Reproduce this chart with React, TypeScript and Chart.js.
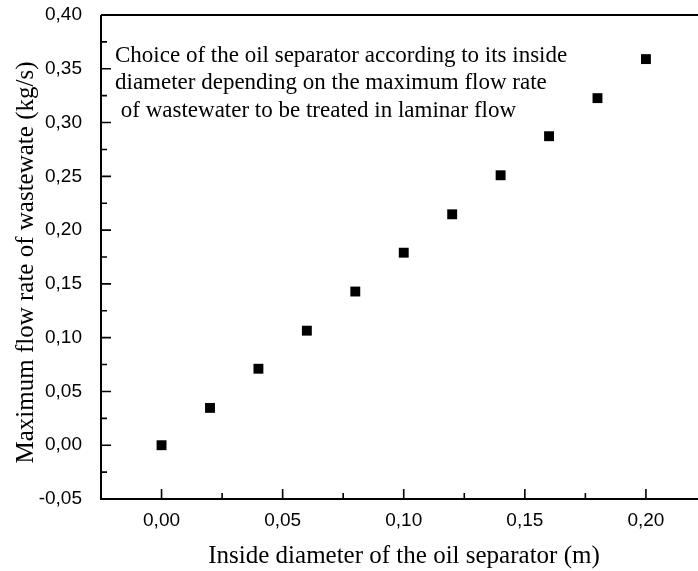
import React, { useEffect, useRef } from 'react';
import { Chart, registerables } from 'chart.js';

Chart.register(...registerables);

const diameters = [0, 0.02, 0.04, 0.06, 0.08, 0.1, 0.12, 0.14, 0.16, 0.18, 0.2];
const flowRates = [0, 0.0347, 0.0711, 0.1065, 0.1429, 0.179, 0.2147, 0.251, 0.2873, 0.3227, 0.359];

const xTicks = [0, 0.05, 0.1, 0.15, 0.2];
const yTicks = [-0.05, 0, 0.05, 0.1, 0.15, 0.2, 0.25, 0.3, 0.35, 0.4];
const xMinorTicks = [0.025, 0.075, 0.125, 0.175];
const yMinorTicks = [-0.025, 0.025, 0.075, 0.125, 0.175, 0.225, 0.275, 0.325, 0.375];

const annotationLines = [
  'Choice of the oil separator according to its inside',
  'diameter depending on the maximum flow rate',
  ' of wastewater to be treated in laminar flow',
];
const xTitle = 'Inside diameter of the oil separator (m)';
const yTitle = 'Maximum flow rate of wastewate (kg/s)';

const fmt = (v: number) => Number(v).toFixed(2).replace('.', ',');

const framePlugin = {
  id: 'frame',
  afterDraw(chart: any) {
    const { ctx, chartArea, scales } = chart;
    const { left, right, top, bottom } = chartArea;
    const x = scales.x;
    const y = scales.y;
    ctx.save();
    ctx.strokeStyle = '#000';
    ctx.lineWidth = 2;
    ctx.beginPath();
    ctx.moveTo(left, top);
    ctx.lineTo(left, bottom);
    ctx.lineTo(right, bottom);
    ctx.moveTo(left, top);
    ctx.lineTo(right, top);
    ctx.stroke();

    ctx.lineWidth = 1.6;
    ctx.beginPath();
    xTicks.forEach((v) => {
      const px = x.getPixelForValue(v);
      ctx.moveTo(px, bottom);
      ctx.lineTo(px, bottom - 10);
    });
    xMinorTicks.forEach((v) => {
      const px = x.getPixelForValue(v);
      ctx.moveTo(px, bottom);
      ctx.lineTo(px, bottom - 6);
    });
    yTicks.forEach((v) => {
      const py = y.getPixelForValue(v);
      ctx.moveTo(left, py);
      ctx.lineTo(left + 10, py);
    });
    yMinorTicks.forEach((v) => {
      const py = y.getPixelForValue(v);
      ctx.moveTo(left, py);
      ctx.lineTo(left + 6, py);
    });
    ctx.stroke();

    ctx.fillStyle = '#000';
    ctx.font = '23px "Liberation Serif", serif';
    ctx.textAlign = 'left';
    ctx.textBaseline = 'alphabetic';
    const baselines = [61.7, 89.3, 117];
    annotationLines.forEach((line, i) => {
      ctx.fillText(line, 115, baselines[i]);
    });

    ctx.font = '25px "Liberation Serif", serif';
    ctx.textAlign = 'center';
    ctx.fillText(xTitle, 404, 563);

    ctx.translate(33, 262.5);
    ctx.rotate(-Math.PI / 2);
    ctx.fillText(yTitle, 0, 0);
    ctx.restore();
  },
};

const zeroPad = (scale: any) => {
  scale.paddingLeft = 0;
  scale.paddingRight = 0;
  scale.paddingTop = 0;
  scale.paddingBottom = 0;
};

export default function App() {
  const canvasRef = useRef<HTMLCanvasElement | null>(null);

  useEffect(() => {
    if (!canvasRef.current) return;
    const chart = new Chart(canvasRef.current, {
      type: 'scatter',
      data: {
        datasets: [
          {
            data: diameters.map((d, i) => ({ x: d, y: flowRates[i] })),
            pointStyle: 'rect',
            pointRadius: 7,
            pointHoverRadius: 7,
            backgroundColor: '#000',
            borderColor: '#000',
            borderWidth: 0,
          },
        ],
      },
      options: {
        animation: false,
        responsive: false,
        layout: { autoPadding: false, padding: { top: 15, right: 0, left: 0, bottom: 0 } },
        plugins: {
          legend: { display: false },
          tooltip: { enabled: false },
        },
        scales: {
          x: {
            type: 'linear',
            min: -0.025,
            max: 0.2215,
            grid: { display: false },
            border: { display: false },
            title: { display: false },
            afterBuildTicks: (scale: any) => {
              scale.ticks = xTicks.map((v) => ({ value: v }));
            },
            afterFit: (scale: any) => {
              scale.height = 72;
              zeroPad(scale);
            },
            ticks: {
              autoSkip: false,
              maxRotation: 0,
              padding: 2,
              color: '#000',
              font: { family: '"Liberation Sans", Arial, sans-serif', size: 19 },
              callback: (v: any) => fmt(v),
            },
          },
          y: {
            type: 'linear',
            min: -0.05,
            max: 0.4,
            grid: { display: false },
            border: { display: false },
            title: { display: false },
            afterBuildTicks: (scale: any) => {
              scale.ticks = yTicks.map((v) => ({ value: v }));
            },
            afterFit: (scale: any) => {
              scale.width = 101;
              zeroPad(scale);
            },
            ticks: {
              autoSkip: false,
              padding: 11,
              color: '#000',
              font: { family: '"Liberation Sans", Arial, sans-serif', size: 19 },
              callback: (v: any) => fmt(v),
            },
          },
        },
      },
      plugins: [framePlugin],
    });
    return () => chart.destroy();
  }, []);

  return (
    <div style={{ position: 'fixed', left: 0, top: 0, width: 698, height: 571, background: '#fff' }}>
      <canvas ref={canvasRef} width={698} height={571} />
    </div>
  );
}
